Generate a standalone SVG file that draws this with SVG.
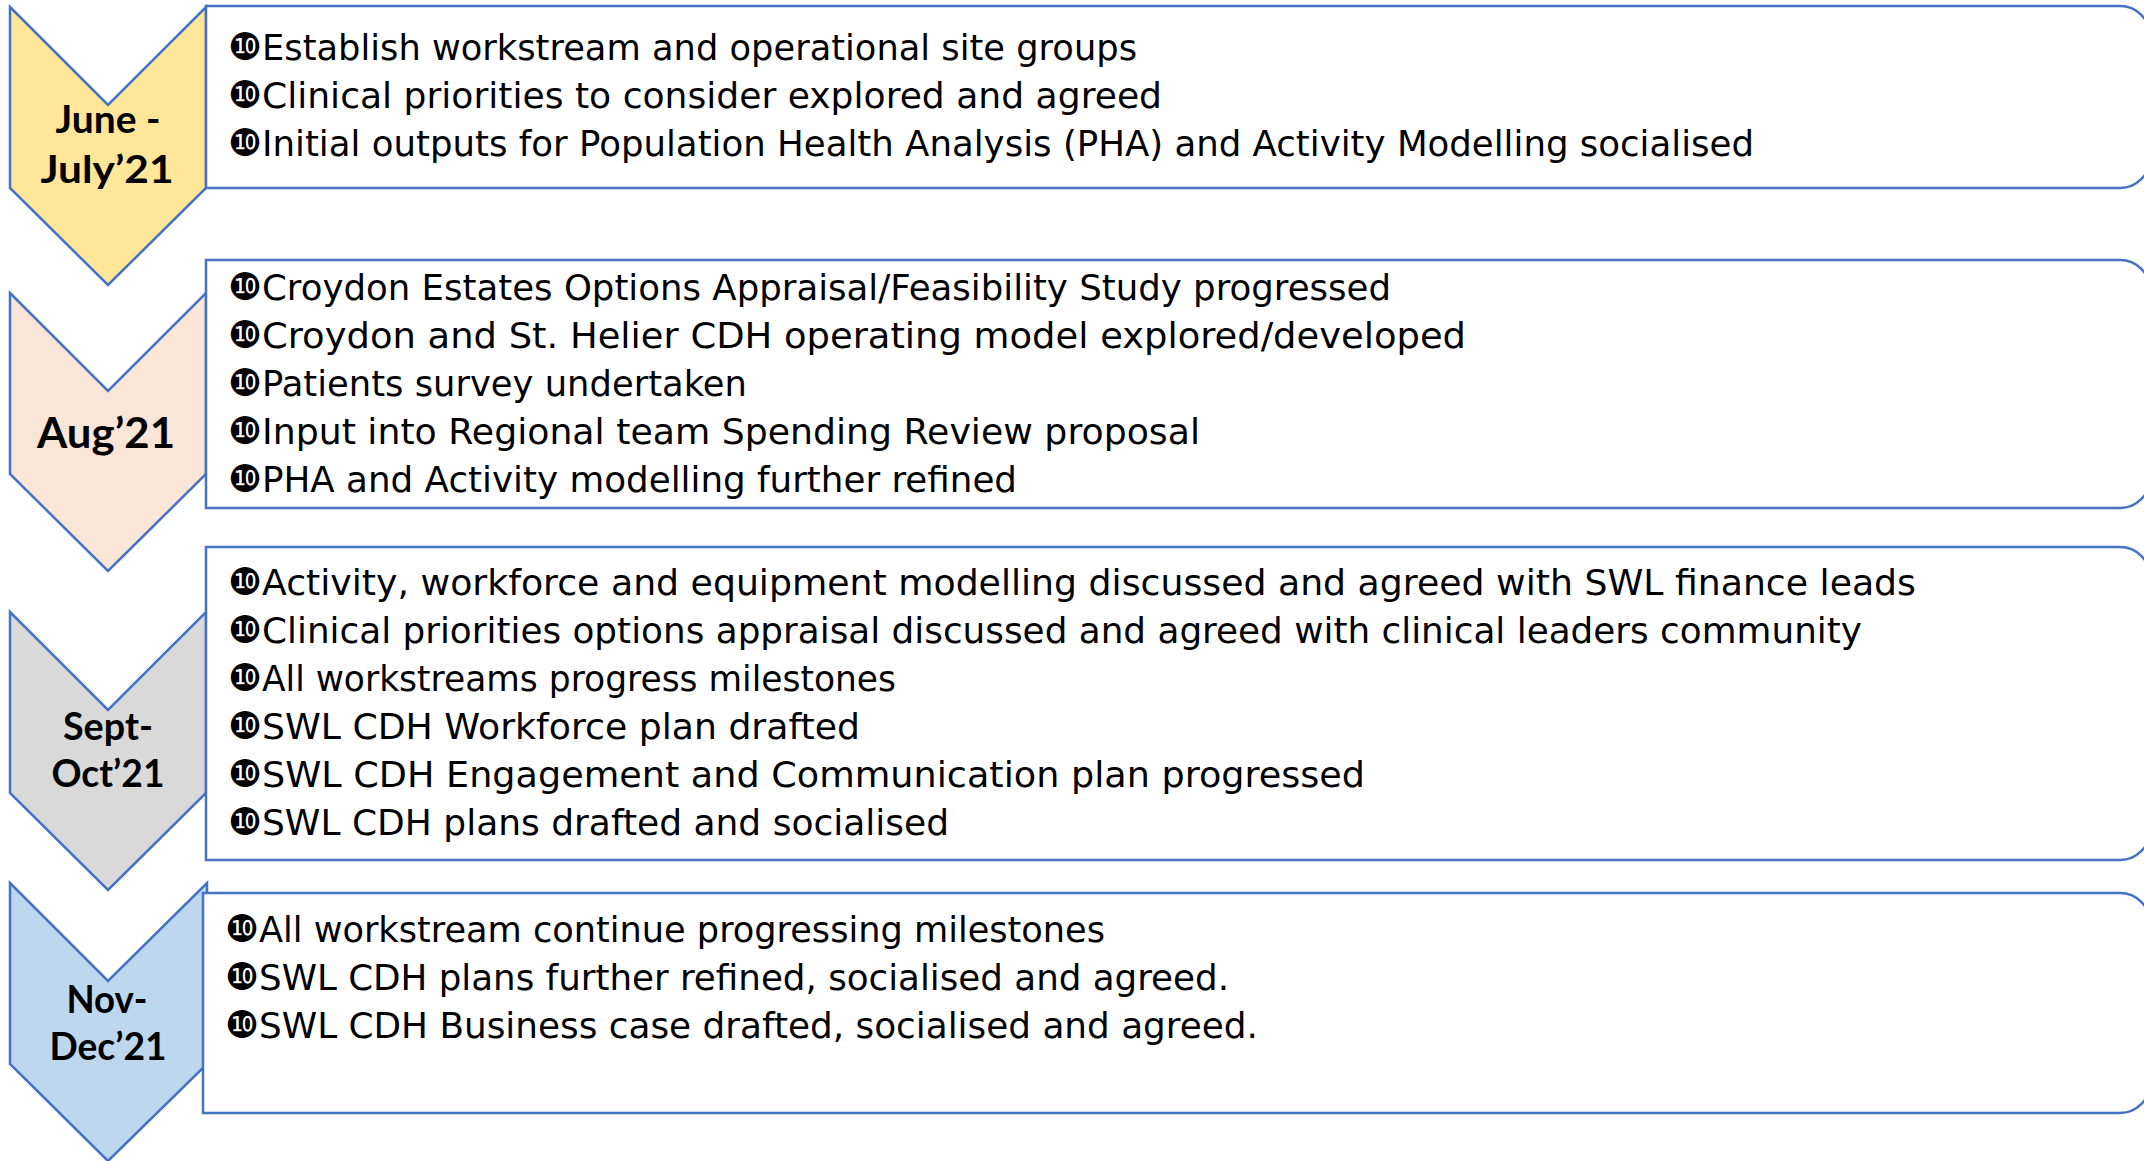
<svg xmlns="http://www.w3.org/2000/svg" width="2144" height="1161" viewBox="0 0 2144 1161">
<style>
.chev{stroke:#4472C4;stroke-width:2.5;stroke-linejoin:miter}
.box{fill:#FFFFFF;stroke:#4472C4;stroke-width:2.5}
.lbl{font-family:Lato,"Liberation Sans",sans-serif;font-weight:bold;font-size:38px;fill:#000;text-anchor:middle}
.t{font-family:"DejaVu Sans","Liberation Sans",sans-serif;font-size:35px;fill:#000}
.b{font-family:"DejaVu Sans",sans-serif;font-size:38px}
</style>
<rect width="2144" height="1161" fill="#FFFFFF"/>
<g id="chevron-jun-jul">
<polygon class="chev" fill="#FFE699" points="10,7 108,105 206,7 206,188 108,285 10,188"/>
<text class="lbl" x="108" y="133" textLength="105" lengthAdjust="spacingAndGlyphs">June -</text>
<text class="lbl" x="107" y="183" textLength="133" lengthAdjust="spacingAndGlyphs">July’21</text>
</g>
<g id="chevron-aug">
<polygon class="chev" fill="#FBE5D6" points="10,293 108,391 206,293 206,474 108,571 10,474"/>
<text class="lbl" x="106" y="448" style="font-size:42px" textLength="138" lengthAdjust="spacingAndGlyphs">Aug’21</text>
</g>
<g id="chevron-sep-oct">
<polygon class="chev" fill="#D9D9D9" points="10,612 108,710 206,612 206,793 108,890 10,793"/>
<text class="lbl" x="108" y="740" textLength="90" lengthAdjust="spacingAndGlyphs">Sept-</text>
<text class="lbl" x="108" y="787" textLength="113" lengthAdjust="spacingAndGlyphs">Oct’21</text>
</g>
<g id="chevron-nov-dec">
<polygon class="chev" fill="#BDD7EE" points="10,883 108,981 207,883 207,1064 108,1161 10,1064"/>
<text class="lbl" x="107" y="1013" textLength="81" lengthAdjust="spacingAndGlyphs">Nov-</text>
<text class="lbl" x="108" y="1060" textLength="117" lengthAdjust="spacingAndGlyphs">Dec’21</text>
</g>
<g id="box-jun-jul">
<path class="box" d="M206,6 H2120 A30,30 0 0 1 2150,36 V158 A30,30 0 0 1 2120,188 H206 Z"/>
<text class="t" y="60"><tspan class="b" x="228">❿</tspan><tspan x="262" textLength="875" lengthAdjust="spacingAndGlyphs">Establish workstream and operational site groups</tspan></text>
<text class="t" y="108"><tspan class="b" x="228">❿</tspan><tspan x="262" textLength="900" lengthAdjust="spacingAndGlyphs">Clinical priorities to consider explored and agreed</tspan></text>
<text class="t" y="156"><tspan class="b" x="228">❿</tspan><tspan x="262" textLength="1492" lengthAdjust="spacingAndGlyphs">Initial outputs for Population Health Analysis (PHA) and Activity Modelling socialised</tspan></text>
</g>
<g id="box-aug">
<path class="box" d="M206,260 H2120 A30,30 0 0 1 2150,290 V478 A30,30 0 0 1 2120,508 H206 Z"/>
<text class="t" y="300"><tspan class="b" x="228">❿</tspan><tspan x="262" textLength="1129" lengthAdjust="spacingAndGlyphs">Croydon Estates Options Appraisal/Feasibility Study progressed</tspan></text>
<text class="t" y="348"><tspan class="b" x="228">❿</tspan><tspan x="262" textLength="1204" lengthAdjust="spacingAndGlyphs">Croydon and St. Helier CDH operating model explored/developed</tspan></text>
<text class="t" y="396"><tspan class="b" x="228">❿</tspan><tspan x="262" textLength="485" lengthAdjust="spacingAndGlyphs">Patients survey undertaken</tspan></text>
<text class="t" y="444"><tspan class="b" x="228">❿</tspan><tspan x="262" textLength="938" lengthAdjust="spacingAndGlyphs">Input into Regional team Spending Review proposal</tspan></text>
<text class="t" y="492"><tspan class="b" x="228">❿</tspan><tspan x="262" textLength="755" lengthAdjust="spacingAndGlyphs">PHA and Activity modelling further refined</tspan></text>
</g>
<g id="box-sep-oct">
<path class="box" d="M206,547 H2120 A30,30 0 0 1 2150,577 V830 A30,30 0 0 1 2120,860 H206 Z"/>
<text class="t" y="595"><tspan class="b" x="228">❿</tspan><tspan x="262" textLength="1654" lengthAdjust="spacingAndGlyphs">Activity, workforce and equipment modelling discussed and agreed with SWL finance leads</tspan></text>
<text class="t" y="643"><tspan class="b" x="228">❿</tspan><tspan x="262" textLength="1600" lengthAdjust="spacingAndGlyphs">Clinical priorities options appraisal discussed and agreed with clinical leaders community</tspan></text>
<text class="t" y="691"><tspan class="b" x="228">❿</tspan><tspan x="262" textLength="634" lengthAdjust="spacingAndGlyphs">All workstreams progress milestones</tspan></text>
<text class="t" y="739"><tspan class="b" x="228">❿</tspan><tspan x="262" textLength="598" lengthAdjust="spacingAndGlyphs">SWL CDH Workforce plan drafted</tspan></text>
<text class="t" y="787"><tspan class="b" x="228">❿</tspan><tspan x="262" textLength="1103" lengthAdjust="spacingAndGlyphs">SWL CDH Engagement and Communication plan progressed</tspan></text>
<text class="t" y="835"><tspan class="b" x="228">❿</tspan><tspan x="262" textLength="687" lengthAdjust="spacingAndGlyphs">SWL CDH plans drafted and socialised</tspan></text>
</g>
<g id="box-nov-dec">
<path class="box" d="M203,893 H2120 A30,30 0 0 1 2150,923 V1083 A30,30 0 0 1 2120,1113 H203 Z"/>
<text class="t" y="942"><tspan class="b" x="225">❿</tspan><tspan x="259" textLength="846" lengthAdjust="spacingAndGlyphs">All workstream continue progressing milestones</tspan></text>
<text class="t" y="990"><tspan class="b" x="225">❿</tspan><tspan x="259" textLength="970" lengthAdjust="spacingAndGlyphs">SWL CDH plans further refined, socialised and agreed.</tspan></text>
<text class="t" y="1038"><tspan class="b" x="225">❿</tspan><tspan x="259" textLength="999" lengthAdjust="spacingAndGlyphs">SWL CDH Business case drafted, socialised and agreed.</tspan></text>
</g>
<g id="connectors"></g>
</svg>
